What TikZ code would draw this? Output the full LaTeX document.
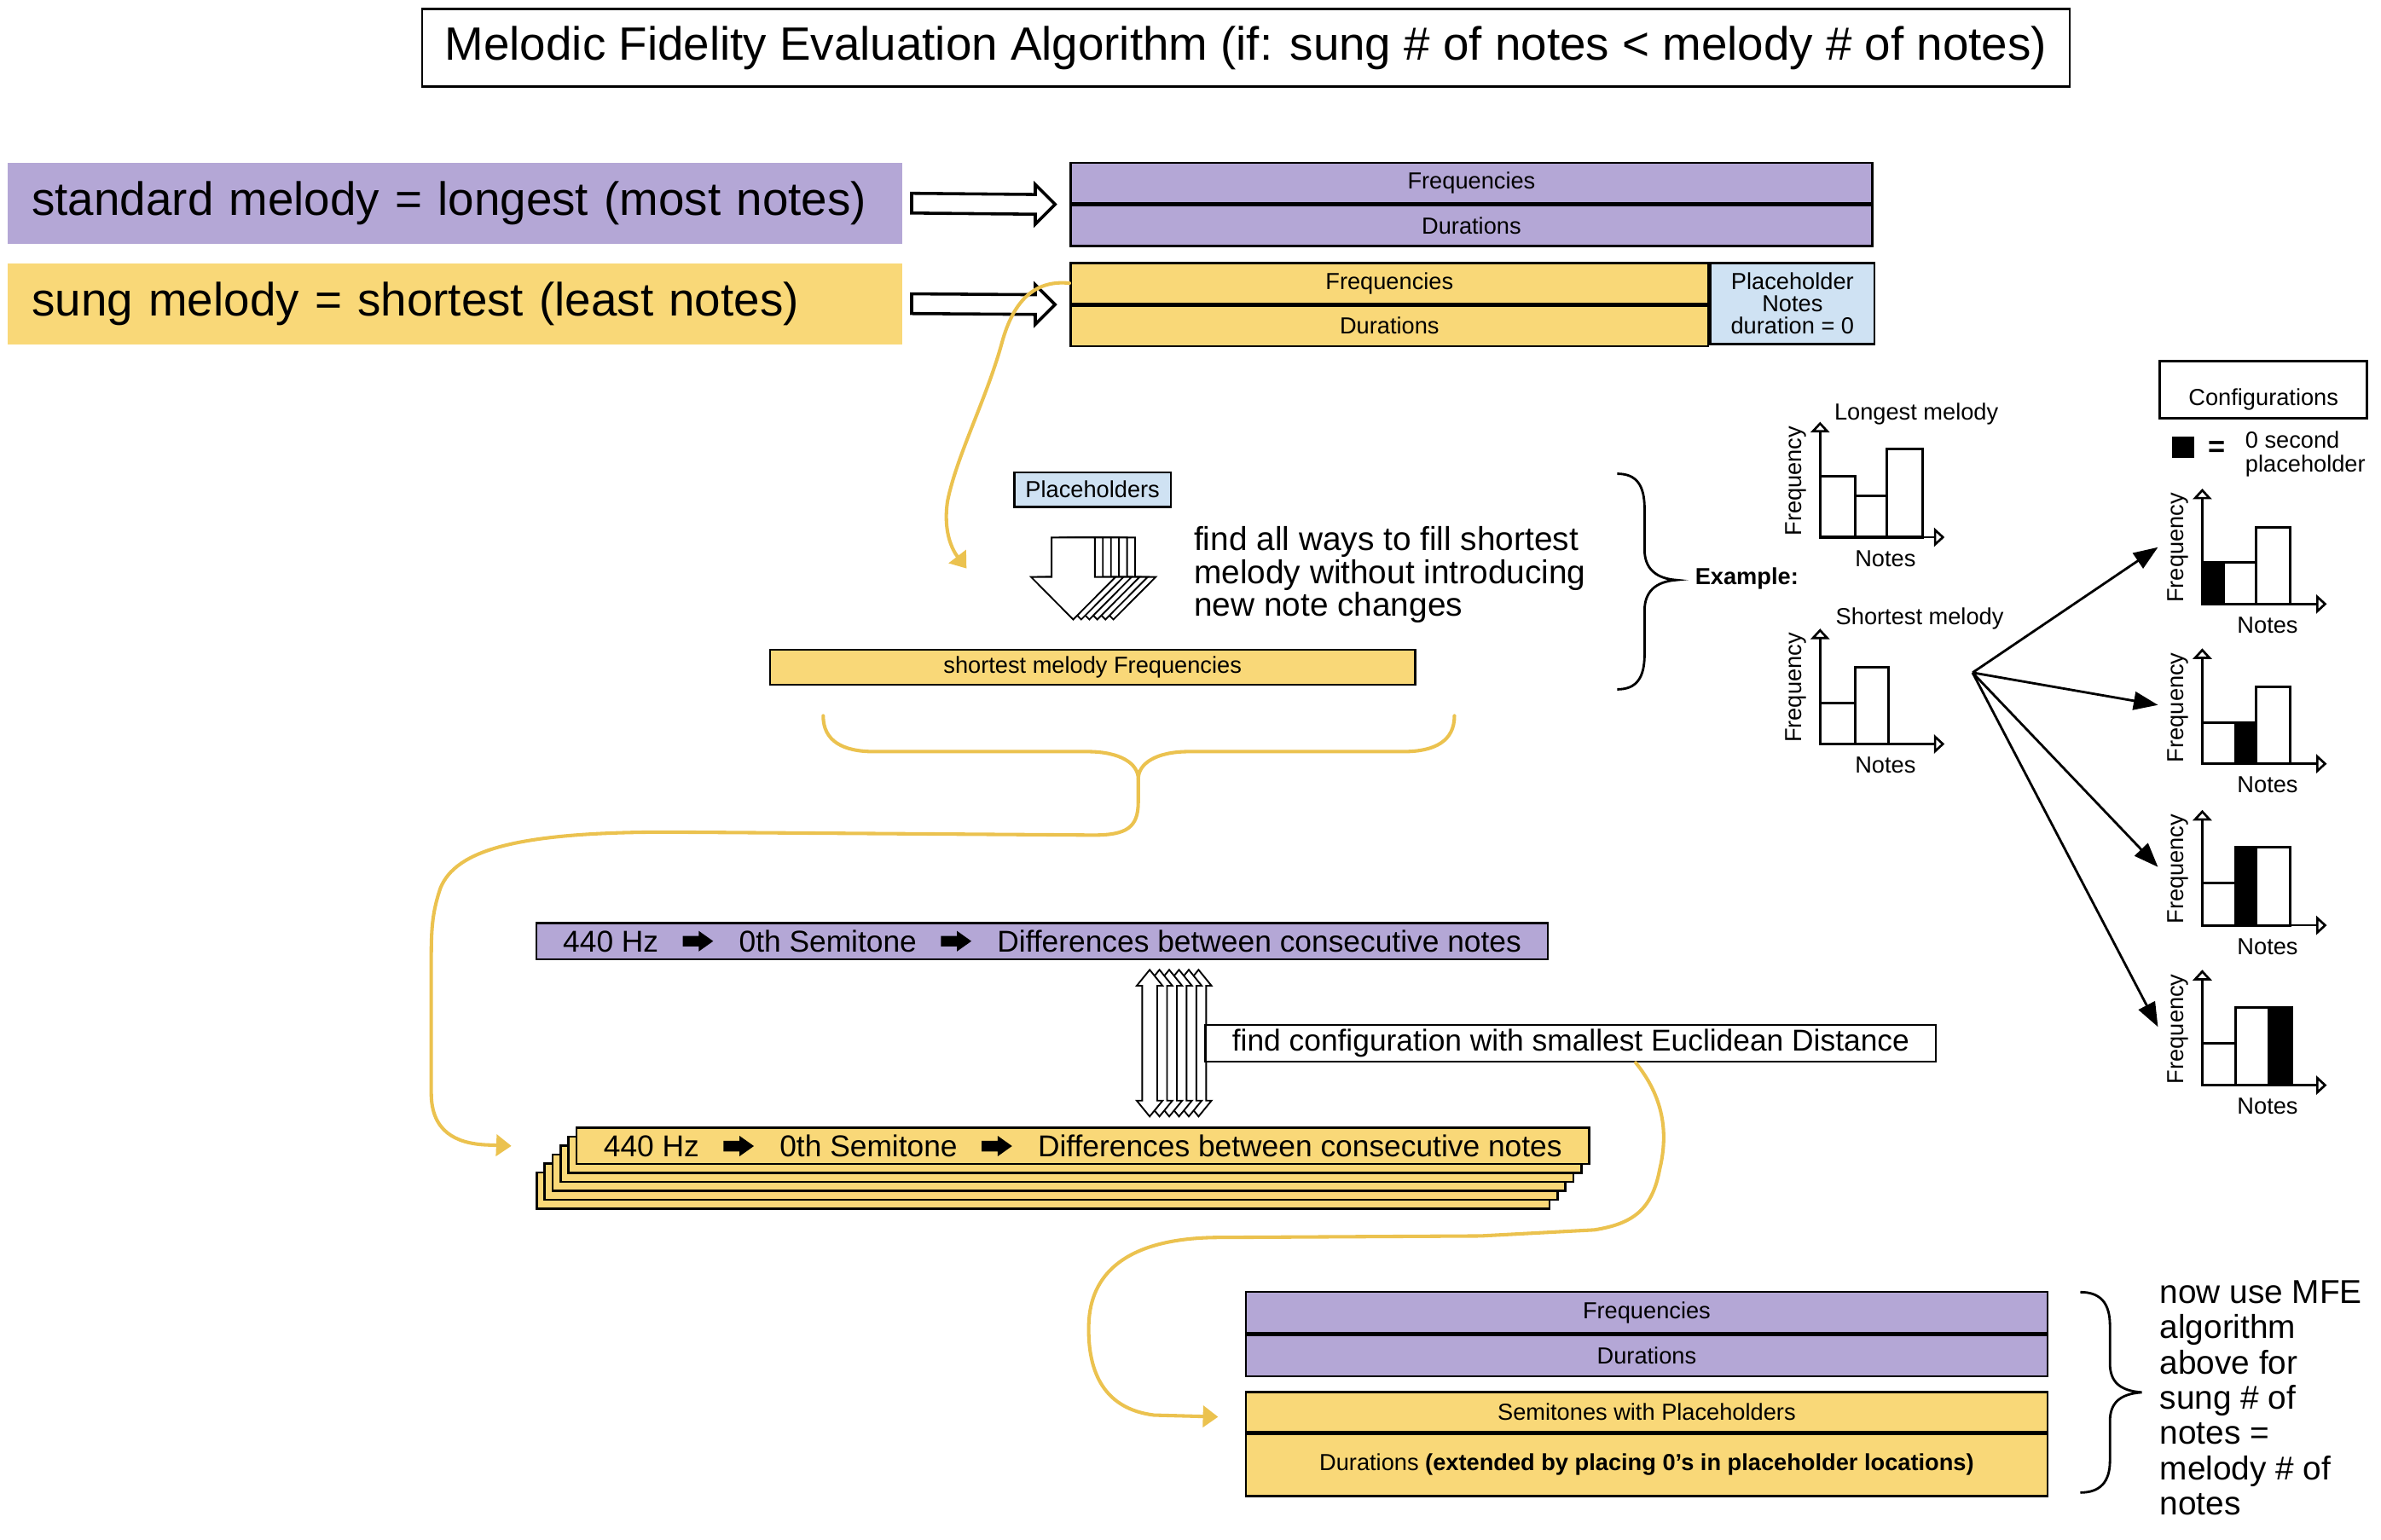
\documentclass[tikz,border=0pt]{standalone}
\usepackage{fontspec}
\setmainfont{Liberation Sans}
\definecolor{colorStandard}{HTML}{B4A7D6}
\definecolor{colorSung}{HTML}{F9D878}
\definecolor{colorHolder}{HTML}{CFE2F3}
\definecolor{colorCurve}{HTML}{EBC24F}
\usetikzlibrary{arrows.meta, calc, positioning}
\newcommand{\bigfont}{\fontsize{17.5}{20}\selectfont}
\newcommand{\midfont}{\fontsize{11.3}{13}\selectfont}
\newcommand{\notefont}{\fontsize{12.4}{12.3}\selectfont}
\newcommand{\smallfont}{\fontsize{8.7}{9.2}\selectfont}
% small black arrow used inside the semitone rows
\newcommand{\semarrow}{\tikz[baseline=-1.4mm, x=1mm, y=1mm]\fill (0,-0.7) -- (2.1,-0.7) -- (2.1,-1.35) -- (4,0) -- (2.1,1.35) -- (2.1,0.7) -- (0,0.7) -- cycle;}
\tikzset{
  heading/.style={draw, line width=0.8pt, font=\bigfont, minimum width=217mm, minimum height=10.2mm},
  melody/.style={font=\bigfont, minimum height=10.7mm, text width=111.4mm, inner xsep=3.2mm, align=left},
  tbl/.style={draw, line width=0.8pt, inner sep=0pt, font=\smallfont, minimum width=105.6mm, minimum height=5.35mm},
  flow/.style={draw, line width=0.8pt, inner sep=0pt, font=\midfont, minimum height=4.78mm},
  fatarrow/.style={draw, line width=0.4mm, fill=white, line join=miter,
    to path={($(\tikztostart)+(0,-6.5)$) -- ($(\tikztotarget)+(-13,-6.5)$) -- ($(\tikztotarget)+(-13,-13)$) -- (\tikztotarget) -- ($(\tikztotarget)+(-13,13)$) -- ($(\tikztotarget)+(-13,6.5)$) -- ($(\tikztostart)+(0,6.5)$) -- cycle}},
  copyarrow/.style={draw, fill=white, line width=0.6pt, line join=miter},
  gold/.style={colorCurve, line width=1.3pt, line cap=round},
  goldtip/.style={-{Triangle[length=2mm, width=2.8mm]}},
  axis/.style={line width=0.85pt, -{Triangle[open, length=1.4mm, width=2.5mm]}},
  bar/.style={line width=1pt},
  lbl/.style={font=\smallfont, inner sep=1pt},
  fanarrow/.style={line width=0.9pt, -{Triangle[length=3.2mm, width=2.4mm]}},
  brace/.style={line width=0.9pt},
}
% frequency / notes chart at a named origin
\newcommand{\notechart}[2]{%
  \draw[axis] (#1) -- ++(0,-76);
  \draw[axis] (#1) -- ++(82,0);
  \foreach \xa/\xb/\yh/\bfill in {#2}
    \draw[bar, fill=\bfill] ($(#1)+(\xa,0)$) rectangle ($(#1)+(\xb,-\yh)$);
  \node[lbl, rotate=90] (#1-f) at ($(#1)+(-16,-37)$) {Frequency};
  \node[lbl] (#1-n) at ($(#1)+(43,14)$) {Notes};
}

\begin{document}
\begin{tikzpicture}[x=0.2mm, y=-0.2mm]
\useasboundingbox (0,0) rectangle (1568,1014);

\node[heading] (title) at (820.5,31.5) {Melodic Fidelity Evaluation Algorithm (if: sung \# of notes < melody \# of notes)};

% the two melodies
\node[melody, fill=colorStandard] (stdmel) at (299.5,133.8) {standard melody = longest (most notes)};
\node[melody, fill=colorSung] (sungmel) at (299.5,200) {sung melody = shortest (least notes)};

\node[tbl, fill=colorStandard] (stdfreq) at (969,120.5) {Frequencies};
\node[tbl, fill=colorStandard, below=0pt of stdfreq] (stddur) {Durations};
\node[tbl, fill=colorSung, minimum width=84mm] (sungfreq) at (915,186.5) {Frequencies};
\node[tbl, fill=colorSung, minimum width=84mm, below=0pt of sungfreq] (sungdur) {Durations};
\node[tbl, fill=colorHolder, minimum width=21.6mm, minimum height=10.7mm, align=center, font=\fontsize{8.7}{8.3}\selectfont, anchor=north west] (holder) at (sungfreq.north east) {Placeholder\\Notes\\duration = 0};

\coordinate (stdarr) at ([xshift=1.2mm]stdmel.east);
\coordinate (stdtip) at ([xshift=-1.9mm]stdfreq.south west);
\coordinate (sungarr) at ([xshift=1.2mm]sungmel.east);
\coordinate (sungtip) at ([xshift=-1.9mm]sungfreq.south west);
\draw[fatarrow] (stdarr) to (stdtip);
\draw[fatarrow] (sungarr) to (sungtip);

\coordinate (fillin) at (636.5,374.4);
\draw[gold, goldtip] (sungfreq.west) .. controls (680,184) and (667,200) .. (660,225) .. controls (650,262) and (630,300) .. (624,330) .. controls (621,350) and (627,362) .. (fillin);

% placeholders into the shortest melody
\node[tbl, fill=colorHolder, minimum width=20.6mm, minimum height=4.6mm] (holders) at (719.5,322.5) {Placeholders};
\foreach \i in {5,...,0}
  \draw[copyarrow, xshift=\i*1.06mm] (692.5,354) -- (721,354) -- (721,380) -- (734.6,380) -- (706.75,408) -- (679,380) -- (692.5,380) -- cycle;
\node[font=\notefont, align=left, anchor=west, inner sep=0pt] (fillways) at (786,378.5) {find all ways to fill shortest\\melody without introducing\\new note changes};
\node[tbl, fill=colorSung, minimum width=85mm, minimum height=4.6mm] (shortfreq) at (719.5,439.5) {shortest melody Frequencies};

\draw[brace] (1065,312) .. controls (1078,312) and (1083,320) .. (1083,335) -- (1083,362) .. controls (1083,374) and (1090,381) .. (1104,382) .. controls (1090,383) and (1083,390) .. (1083,402) -- (1083,431) .. controls (1083,446) and (1078,454) .. (1065,454);
\node[font=\smallfont\bfseries, anchor=west, inner sep=0pt] (example) at (1116,381) {Example:};

% example charts
\coordinate (longest) at (1198.6,353.8);
\coordinate (shortest) at (1198.6,490);
\notechart{longest}{0/23.1/40/white, 23.1/43.9/27/white, 43.9/67.5/58/white}
\node[lbl] (longest-t) at (1262,272.4) {Longest melody};
\notechart{shortest}{0/23.1/27/white, 23.1/45/50.5/white}
\node[lbl] (shortest-t) at (1264.2,407.2) {Shortest melody};

\node[draw, line width=0.8pt, font=\smallfont, minimum width=27.3mm, minimum height=7.4mm, text height=4.7mm, text depth=0.5mm] (cfgbox) at (1490.6,256.7) {Configurations};
\node[fill=black, minimum width=2.9mm, minimum height=2.8mm, inner sep=0pt] (legsq) at (1437.7,294.4) {};
\node[font=\fontsize{11}{12}\selectfont\bfseries, inner sep=0pt] (legeq) at (1459.7,295.5) {=};
\node[font=\fontsize{8.7}{9.1}\selectfont, align=left, anchor=west, inner sep=0pt] (legtxt) at (1478.3,299) {0 second\\placeholder};

\coordinate (cfg1) at (1450.3,397.8);
\coordinate (cfg2) at (1450.3,503);
\coordinate (cfg3) at (1450.3,609.4);
\coordinate (cfg4) at (1450.3,714.7);
\notechart{cfg1}{0/14.1/27.5/black, 14.1/35.4/27.5/white, 35.4/57.7/50.5/white}
\notechart{cfg2}{0/22.1/27/white, 22.1/35.4/27/black, 35.4/57.7/50.5/white}
\notechart{cfg3}{0/22.1/28/white, 22.1/35.4/51.5/black, 35.4/57.7/51.5/white}
\notechart{cfg4}{0/22.1/27.5/white, 22.1/43.9/51.3/white, 43.9/59.1/51.3/black}

\coordinate (fan) at (1299,443);
\coordinate (cfg1-in) at (1421.1,360.4);
\coordinate (cfg2-in) at (1421.1,464.3);
\coordinate (cfg3-in) at (1421.1,571);
\coordinate (cfg4-in) at (1421.1,676.3);
\foreach \k in {1,...,4}
  \draw[fanarrow] (fan) -- (cfg\k-in);

% semitone rows
\node[flow, fill=colorStandard, minimum width=133.2mm] (semrow) at (686.3,619.75) {440 Hz\hspace{3.2mm}\semarrow\hspace{3.4mm}0th Semitone\hspace{3.2mm}\semarrow\hspace{3.4mm}Differences between consecutive notes};
\foreach \i in {5,...,0}
  \draw[copyarrow, xshift=\i*1.288mm] (757.1,638.7) -- (765.6,649.2) -- (762.1,649.2) -- (762.1,724.9) -- (765.6,724.9) -- (757.1,735.3) -- (748.6,724.9) -- (752.2,724.9) -- (752.2,649.2) -- (748.6,649.2) -- cycle;
\node[flow, fill=white, minimum width=96.2mm, minimum height=4.86mm] (euclid) at (1034.4,687.05) {find configuration with smallest Euclidean Distance};
\foreach \k in {5,...,1}
  \node[flow, fill=colorSung, minimum width=133.4mm, minimum height=4.76mm, xshift=-\k*1.048mm, yshift=-\k*1.176mm] (stack\k) at (713.1,754.7) {};
\node[flow, fill=colorSung, minimum width=133.4mm, minimum height=4.76mm] (stack0) at (713.1,754.7) {440 Hz\hspace{3.2mm}\semarrow\hspace{3.4mm}0th Semitone\hspace{3.2mm}\semarrow\hspace{3.4mm}Differences between consecutive notes};

\coordinate (brtip) at (749.6,513);
\draw[gold] (542.1,471.4) .. controls (542.1,488) and (555,495) .. (575.6,495) -- (716,495) .. controls (738,495) and (749.6,503) .. (brtip) .. controls (749.6,503) and (761,495) .. (783,495) -- (924,495) .. controls (945,495) and (957.8,488) .. (957.8,471.4);
\coordinate (stackin) at ([xshift=-8.42mm]stack0.west);
\draw[gold, goldtip] (brtip) -- (749.6,528) .. controls (749.6,545) and (742,550) .. (720,550) -- (440,548) .. controls (340,548) and (300,560) .. (290,585) .. controls (285,600) and (284,610) .. (284,630) -- (284,720) .. controls (284,745) and (300,753) .. (320,754) -- (stackin);

% result tables
\node[tbl, fill=colorStandard, minimum height=5.44mm] (botfreq) at (1084.4,864.4) {Frequencies};
\node[tbl, fill=colorStandard, minimum height=5.42mm, below=0pt of botfreq] (botdur) {Durations};
\node[tbl, fill=colorSung, minimum height=5.18mm] (semph) at (1084.4,929.85) {Semitones with Placeholders};
\node[tbl, fill=colorSung, minimum height=8.2mm, below=0pt of semph] (durext) {Durations \textbf{(extended by placing 0’s in placeholder locations)}};

\coordinate (phin) at ([xshift=-3.5mm, yshift=-0.66mm]semph.west);
\draw[gold, goldtip] ([xshift=8.56mm]euclid.south) .. controls (1095,722) and (1099,745) .. (1093,770) .. controls (1088,797) and (1075,806) .. (1050,810) -- (975,814) -- (800,815) .. controls (740,816) and (718,840) .. (717,872) .. controls (716,905) and (728,928) .. (760,932) -- (phin);

\draw[brace] (1370,851) .. controls (1383,851) and (1389.5,858) .. (1389.5,873) -- (1389.5,898) .. controls (1389.5,910) and (1396,916) .. (1410.5,917) .. controls (1396,918) and (1389.5,924) .. (1389.5,936) -- (1389.5,962) .. controls (1389.5,976) and (1383,983) .. (1370,983);
\node[font=\fontsize{12.4}{13.2}\selectfont, align=left, anchor=west, inner sep=0pt] (mfenote) at (1422,920.6) {now use MFE\\algorithm\\above for\\sung \# of\\notes =\\melody \# of\\notes};
\end{tikzpicture}
\end{document}
